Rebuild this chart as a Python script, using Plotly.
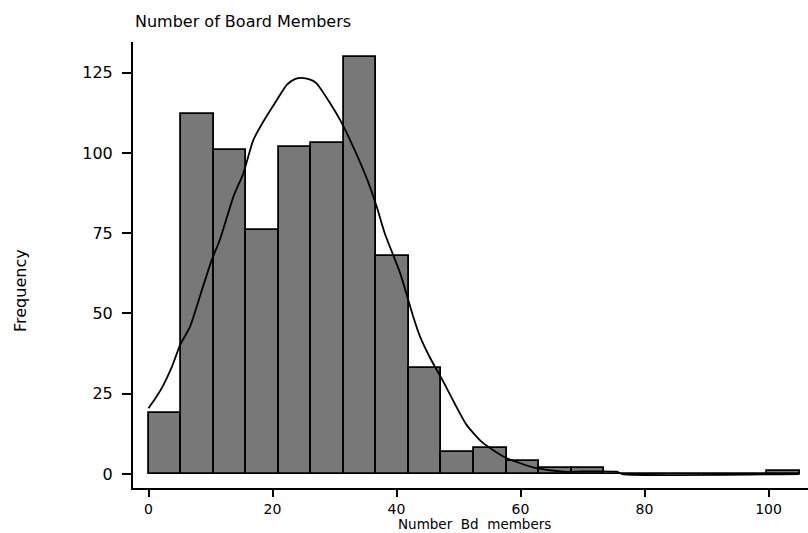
import plotly.graph_objects as go

# Histogram of board size: 20 bins of equal width starting at 0
bin_start = 0.0
bin_width = 5.25
counts = [19, 112, 101, 76, 102, 103, 130, 68, 33, 7,
          8, 4, 2, 2, 0, 0, 0, 0, 0, 1]

# Kernel density overlay, scaled to frequency
kde_x = [0, 1.2, 2.4, 3.8, 5.1, 6.7, 8.4, 10.2, 11.5, 13.7, 15.3, 16.9,
         18.5, 20.7, 22.3, 23.6, 24.7, 26.0, 27.1, 29.3, 30.9, 33.0, 35.3,
         36.8, 38.1, 40.6, 42.7, 43.8, 45.6, 47.4, 49.5, 51.3, 53.7, 55.8,
         57.8, 60.2, 62.6, 66.9, 70.0, 75.5, 76.4, 105]
kde_y = [20.5, 23.8, 27.7, 33.5, 40.2, 45.9, 56.0, 66.7, 72.9, 86.4, 93.7,
         104, 109.7, 116.5, 121.2, 123.0, 123.4, 122.9, 121.7, 115.5, 110.3,
         102, 91.6, 83.3, 75, 62.5, 49, 42.8, 35.5, 29.3, 21.5, 15.3, 10.1,
         7.2, 4.9, 3.2, 1.8, 0.7, 0.8, 0.7, 0, 0]

x_ticks = [0, 20, 40, 60, 80, 100]
y_ticks = [0, 25, 50, 75, 100, 125]

title_text = "Number of Board Members"
x_title = "Number  Bd  members"
y_title = "Frequency"

centers = [bin_start + bin_width * (i + 0.5) for i in range(len(counts))]

font_family = "DejaVu Sans"
font_size = 16

fig = go.Figure()
fig.add_trace(go.Bar(
    x=centers, y=counts, width=bin_width,
    marker=dict(color="#787878", line=dict(color="black", width=1.8)),
    showlegend=False, hoverinfo="skip",
))
fig.add_trace(go.Scatter(
    x=kde_x, y=kde_y, mode="lines", line_shape="spline",
    line=dict(color="black", width=1.8, smoothing=0.6),
    showlegend=False, hoverinfo="skip",
))

axis_common = dict(
    showgrid=False, zeroline=False, showline=True, linecolor="black",
    linewidth=2, ticks="outside", tickwidth=2, tickcolor="black",
)

fig.update_layout(
    width=808, height=533,
    margin=dict(l=133, r=0, t=42, b=45),
    paper_bgcolor="white", plot_bgcolor="white",
    font=dict(family=font_family, size=font_size, color="black"),
    bargap=0,
    xaxis=dict(range=[-2.5, 106.37], tickvals=x_ticks, ticklen=7,
               tickfont=dict(family=font_family, size=14, color="black"),
               **axis_common),
    yaxis=dict(range=[-4.36, 134.56], tickvals=y_ticks, ticklen=9,
               tickfont=dict(family=font_family, size=font_size,
                             color="black"),
               ticklabelstandoff=6, **axis_common),
    annotations=[
        dict(text=title_text, xref="paper", yref="paper", x=0, y=1.0455,
             xanchor="left", yanchor="middle", showarrow=False,
             font=dict(family=font_family, size=font_size, color="black")),
        dict(text=x_title, xref="paper", yref="paper", x=0.506, y=0,
             yshift=-45, xanchor="center", yanchor="bottom", showarrow=False,
             borderpad=0,
             font=dict(family=font_family, size=13.5, color="black")),
        dict(text=y_title, xref="paper", yref="paper", x=-0.1674, y=0.4417,
             xanchor="center", yanchor="middle", textangle=-90,
             showarrow=False,
             font=dict(family=font_family, size=font_size, color="black")),
    ],
)

fig.write_html("out.html")
